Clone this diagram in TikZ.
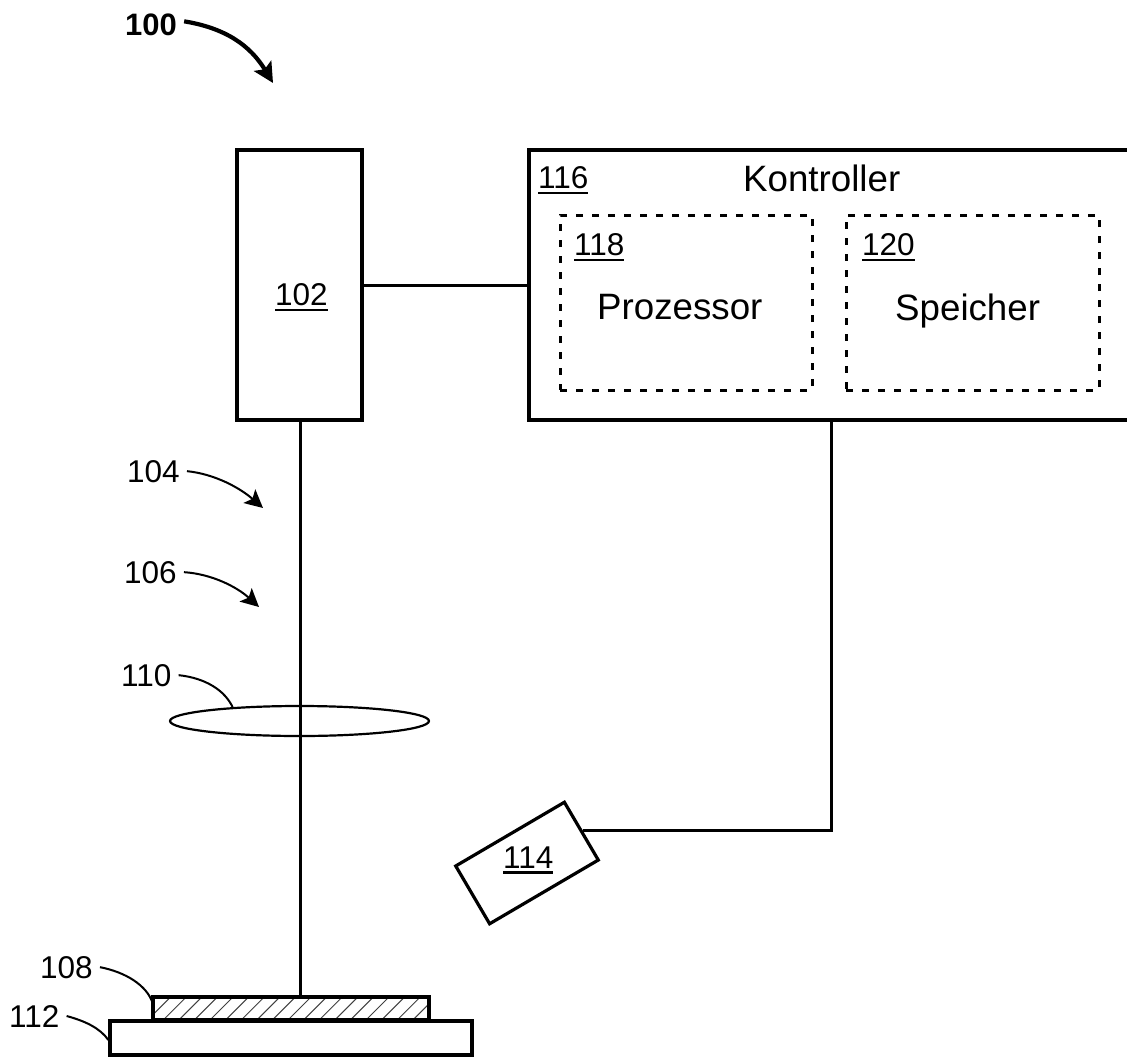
\documentclass[tikz,border=0pt]{standalone}
\usepackage{fontspec}
\setmainfont{Liberation Sans}
\usetikzlibrary{shapes.geometric,arrows.meta}
\newcommand\refnum[1]{\vtop{\hbox{#1}\vskip3.2pt\hrule height 2.8pt}}
\tikzset{
  x=1pt,y=-1pt,
  solidbox/.style={draw=black,line width=3.2pt,rectangle,inner sep=0pt,fill=white},
  dashbox/.style={draw=black,line width=3pt,rectangle,inner sep=0pt,dash pattern=on 7pt off 9pt},
  big/.style={font=\fontsize{36.7}{40}\selectfont,inner sep=0pt,anchor=base west},
  num/.style={font=\fontsize{31.5}{34}\selectfont,inner sep=0pt,anchor=base west},
  lab/.style={font=\fontsize{31.5}{34}\selectfont,inner ysep=0pt,inner xsep=7pt,anchor=base west},
  wire/.style={line width=3pt,line cap=butt},
  leader/.style={line width=2pt},
  pointer/.style={line width=2pt,-{Stealth[length=18pt,width=18pt,inset=4pt]}},
  mainpointer/.style={line width=4.2pt,-{Stealth[length=20pt,width=20pt,inset=4pt]}},
  hatch/.style={line width=1pt,draw=black!75},
}
\begin{document}
\begin{tikzpicture}
\useasboundingbox (0,0) rectangle (1127,1057);
\clip (0,0) rectangle (1127,1057);

% beam and wiring underneath
\node[solidbox,minimum width=125pt,minimum height=270pt] (source) at (299.5,285) {};
\node[solidbox,minimum width=609pt,minimum height=270pt] (ctrl) at (833.5,285) {};
\node[draw=none,minimum width=276pt,minimum height=23pt,inner sep=0pt] (sample) at (291,1008.5) {};
\node[solidbox,minimum width=362pt,minimum height=34pt] (plate) at (291,1038) {};
\node[solidbox,minimum width=126pt,minimum height=67pt,rotate=30.4] (cam) at (527,863) {};
\coordinate (drop) at (831,420);

\draw[wire] ([xshift=0.5pt]source.south) -- ([xshift=0.5pt]source.south |- sample.north);
\draw[wire] (source.east |- 0,285) -- (ctrl.west |- 0,285);
\draw[wire] (cam.east) -| (drop);

% lens
\node[draw=black,line width=2.2pt,ellipse,inner sep=0pt,minimum width=259pt,minimum height=30pt] (lens) at (299.5,721) {};
\coordinate (lensmark) at (233,708);

% sample with hatching
\begin{scope}
  \clip (153,997) rectangle (429,1020);
  \foreach \i in {0,...,19} {
    \draw[hatch] (130+15.6*\i,1022) -- (157+15.6*\i,995);
  }
\end{scope}
\node[draw=black,line width=3.2pt,rectangle,inner sep=0pt,minimum width=276pt,minimum height=23pt] at (sample.center) {};

% controller contents
\node[dashbox,minimum width=252pt,minimum height=175pt] (proc) at (686,302.5) {};
\node[dashbox,minimum width=253pt,minimum height=175pt] (mem) at (972.5,302.5) {};
\node[big] (tctrl) at (743,191) {Kontroller};
\node[big] (tproc) at (597,319) {Prozessor};
\node[big] (tmem) at (895,320) {Speicher};
\node[num] (n116) at (538,188) {\refnum{116}};
\node[num] (n118) at (574,255) {\refnum{118}};
\node[num] (n120) at (862,255) {\refnum{120}};
\node[num] (n102) at (275,305) {\refnum{102}};
\node[num] (n114) at (503,868) {\refnum{114}};

% reference labels
\node[lab,font=\fontsize{31}{34}\selectfont\bfseries] (l100) at (118,36) {100};
\node[lab] (l104) at (120,482) {104};
\node[lab] (l106) at (117,583) {106};
\node[lab] (l110) at (114,686) {110};
\node[lab] (l108) at (33,978) {108};
\node[lab] (l112) at (2,1027) {112};

\coordinate (a100) at (273,83);
\coordinate (a104) at (263,508);
\coordinate (a106) at (259,607);

\draw[mainpointer] ([yshift=4pt]l100.east) .. controls (225,28) and (250,45) .. (a100);
\draw[pointer] (l104.east) .. controls (215,474) and (240,488) .. (a104);
\draw[pointer] (l106.east) .. controls (212,574) and (237,587) .. (a106);
\draw[leader] (l110.east) .. controls (205,678) and (225,690) .. (lensmark);
\draw[leader] (l108.east) .. controls (125,972) and (147,985) .. ([yshift=5pt]sample.west);
\draw[leader] (l112.east) .. controls (85,1021) and (100,1028) .. ([yshift=-2pt]plate.west);
\end{tikzpicture}
\end{document}
